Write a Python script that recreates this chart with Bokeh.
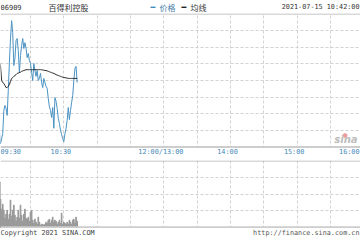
from bokeh.plotting import figure
from bokeh.layouts import column
from bokeh.models import Range1d, FixedTicker, Span, Label
from bokeh.embed import file_html
from bokeh.resources import INLINE

# ---------------- data ----------------
code = "06909"
name = "百得利控股"
stamp = "2021-07-15 10:42:00"
legend_price = "价格"
legend_avg = "均线"
copyright_txt = "Copyright 2021 SINA.COM"
url_txt = "http://finance.sina.com.cn"
watermark = "sina"

# x axis: minutes of trading since 09:30 (lunch break removed)
tick_minutes = [0, 60, 150, 210, 270, 330]
tick_labels = ["09:30", "10:30", "12:00/13:00", "14:00", "15:00", "16:00"]
grid_minutes = [30, 60, 90, 120, 150, 180, 210, 240, 270, 300, 330]

price = [3.743, 3.652, 3.580, 3.548, 3.560, 3.572, 3.628, 3.640, 3.633, 3.616,
         3.676, 3.743, 3.801, 3.844, 3.815, 3.736, 3.753, 3.796, 3.801, 3.772,
         3.719, 3.760, 3.784, 3.801, 3.777, 3.791, 3.777, 3.755, 3.765, 3.748,
         3.741, 3.719, 3.700, 3.741, 3.724, 3.710, 3.724, 3.700, 3.705, 3.717,
         3.695, 3.683, 3.705, 3.695, 3.686, 3.681, 3.657, 3.637, 3.628, 3.611,
         3.635, 3.585, 3.659, 3.650, 3.633, 3.609, 3.597, 3.580, 3.570, 3.560,
         3.553, 3.572, 3.585, 3.604, 3.635, 3.606, 3.628, 3.647, 3.664, 3.700,
         3.729, 3.734, 3.695]

avg = [3.743, 3.748, 3.745, 3.735, 3.700, 3.695, 3.693, 3.688, 3.683, 3.683,
       3.686, 3.690, 3.698, 3.705, 3.707, 3.710, 3.712, 3.714, 3.717, 3.718,
       3.719, 3.720, 3.722, 3.723, 3.724, 3.725, 3.726, 3.726, 3.726, 3.726,
       3.726, 3.726, 3.726, 3.726, 3.726, 3.726, 3.726, 3.726, 3.726, 3.726,
       3.726, 3.725, 3.725, 3.724, 3.724, 3.723, 3.722, 3.721, 3.720, 3.719,
       3.718, 3.717, 3.716, 3.714, 3.713, 3.712, 3.711, 3.710, 3.709, 3.708,
       3.707, 3.707, 3.706, 3.706, 3.705, 3.705, 3.705, 3.705, 3.705, 3.705,
       3.705, 3.705, 3.705]

volume = [450, 200, 250, 280, 180, 230, 170, 90, 130, 170,
          80, 130, 270, 110, 170, 220, 120, 60, 100, 170,
          90, 220, 120, 60, 130, 180, 90, 80, 100, 60,
          150, 170, 70, 40, 80, 50, 30, 100, 50, 20,
          30, 30, 20, 30, 50, 40, 70, 80, 40, 70,
          100, 50, 70, 60, 30, 50, 70, 40, 140, 30,
          50, 40, 30, 50, 30, 70, 50, 30, 70, 80,
          40, 100, 60]

minutes = list(range(len(price)))

price_lo, price_hi = 3.54, 3.86
price_grid = [3.58, 3.62, 3.66, 3.70, 3.74, 3.78, 3.82]
vol_hi = 660
vol_grid = [165, 330, 495]

# ---------------- styles ----------------
MONO = "DejaVu Sans Mono"
CJK = "Noto Sans CJK SC"
GRID = "#d2d2d2"
W = 360


def base(h, xr, yr):
    return figure(width=W, height=h, x_range=xr, y_range=yr,
                  x_axis_location=None, y_axis_location=None,
                  toolbar_location=None, output_backend="svg", min_border=0,
                  outline_line_color=None, background_fill_color="white",
                  border_fill_color="white")


def lab(f, x, y, t, color="#333333", font=MONO, size="7px", align="left",
        style="normal", xoff=0, units="data"):
    f.add_layout(Label(x=x, y=y, text=t, text_color=color, text_font=font,
                       text_font_size=size, text_align=align, x_offset=xoff,
                       text_baseline="middle", text_font_style=style,
                       x_units=units))


xr = Range1d(3, 327)

# header
hdr = base(13, Range1d(0, W), Range1d(13, 0))
hdr.grid.visible = False
lab(hdr, 0, 6.5, code, size="7px")
lab(hdr, 48, 6.5, name, font=CJK, size="8px")
lab(hdr, 150, 6.5, "━", color="#3f8cc0", font="DejaVu Sans", size="8px")
lab(hdr, 159, 6.5, legend_price, color="#4a7fa8", font=CJK, size="8px")
lab(hdr, 181, 6.5, "━", color="#222222", font="DejaVu Sans", size="8px")
lab(hdr, 190, 6.5, legend_avg, color="#333333", font=CJK, size="8px")
lab(hdr, 359, 6.5, stamp, color="#333333", size="6.8px", align="right")

# price panel
pp = (price_hi - price_lo) / 133.0
pr = base(135, xr, Range1d(price_lo - 1.5 * pp, price_hi + 0.5 * pp))
pr.xgrid.ticker = FixedTicker(ticks=grid_minutes)
pr.ygrid.ticker = FixedTicker(ticks=price_grid)
pr.grid.grid_line_color = GRID
pr.grid.grid_line_dash = "3 2"
pr.add_layout(Span(location=price_hi, dimension="width", line_color="#b4b4b4", line_width=1))
pr.add_layout(Span(location=price_lo, dimension="width", line_color="#cdcdcd", line_width=2))
lab(pr, 342, price_lo + 13 * pp, "●", color="#f29a9a", font="DejaVu Sans",
    size="6px", units="screen")
lab(pr, 357, price_lo + 8 * pp, watermark, color="#bdbdbd", font="DejaVu Sans",
    size="10px", style="bold italic", align="right", units="screen")
pr.line(minutes, price, line_color="#4a92c2", line_width=1)
pr.line(minutes, avg, line_color="#2a2a2a", line_width=1)

# time labels strip
tl = base(12, xr, Range1d(12, 0))
tl.grid.visible = False
for m, t in zip(tick_minutes, tick_labels):
    if m == tick_minutes[0]:
        lab(tl, xr.start, 3.5, t, color="#3f88b8", size="6.8px", align="left")
    elif m == tick_minutes[-1]:
        lab(tl, xr.end, 3.5, t, color="#3f88b8", size="6.8px", align="right", xoff=-1)
    else:
        lab(tl, m, 3.5, t, color="#3f88b8", size="6.8px", align="center", xoff=-3)

# volume panel
vp = vol_hi / 66.2
vo = base(68, xr, Range1d(-1.3 * vp, vol_hi + 0.5 * vp))
vo.xgrid.ticker = FixedTicker(ticks=grid_minutes)
vo.ygrid.ticker = FixedTicker(ticks=vol_grid)
vo.grid.grid_line_color = GRID
vo.grid.grid_line_dash = "3 2"
vo.vbar(x=minutes, top=volume, bottom=0, width=0.6, color="#999999")
vo.add_layout(Span(location=vol_hi, dimension="width", line_color="#b4b4b4", line_width=1))
vo.add_layout(Span(location=0, dimension="width", line_color="#cdcdcd", line_width=2))

# footer
ft = base(12, Range1d(0, W), Range1d(12, 0))
ft.grid.visible = False
lab(ft, 0, 4.5, copyright_txt, color="#444444", size="6.8px")
lab(ft, 359, 4.5, url_txt, color="#555555", size="6.8px", align="right")

layout = column(hdr, pr, tl, vo, ft, spacing=0)
open("out.html", "w").write(file_html(layout, INLINE))
